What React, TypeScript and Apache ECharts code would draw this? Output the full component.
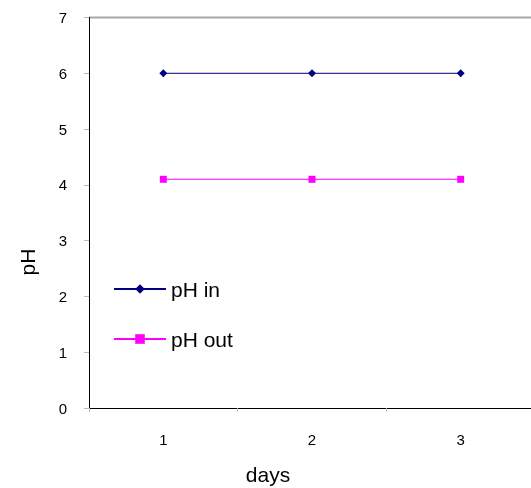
import React, { useEffect, useRef } from "react";
import * as echarts from "echarts";

const days = ["1", "2", "3"];
const phIn = [6, 6, 6];
const phOut = [4.1, 4.1, 4.1];
const yTicks = { min: 0, max: 7, interval: 1 };

const FONT = "'Liberation Sans', Arial, sans-serif";

export default function App() {
  const ref = useRef<HTMLDivElement>(null);

  useEffect(() => {
    if (!ref.current) return;
    const chart = echarts.init(ref.current, null, { renderer: "svg" });
    chart.setOption({
      animation: false,
      textStyle: { fontFamily: FONT },
      // the plot runs a little past the right edge of the visible frame
      grid: { left: 89, top: 17.5, width: 446, height: 390.5, containLabel: false },
      legend: {
        orient: "vertical",
        left: 108,
        top: 273,
        itemWidth: 52,
        itemHeight: 12,
        itemGap: 28,
        textStyle: { fontSize: 21, lineHeight: 22, color: "#000", fontFamily: FONT, padding: [0, 0, 0, 0] },
        data: ["pH in", "pH out"],
      },
      xAxis: {
        type: "category",
        data: days,
        boundaryGap: true,
        axisLine: { lineStyle: { color: "#000", width: 1 } },
        axisTick: { show: true, length: 4, lineStyle: { color: "#bbb" } },
        axisLabel: { color: "#000", fontSize: 15, margin: 24, fontFamily: FONT },
        splitLine: { show: false },
      },
      yAxis: {
        type: "value",
        min: yTicks.min,
        max: yTicks.max,
        interval: yTicks.interval,
        axisLine: { show: true, lineStyle: { color: "#000", width: 1 } },
        axisTick: { show: true, length: 5, lineStyle: { color: "#bbb" } },
        axisLabel: { color: "#000", fontSize: 15, margin: 22, fontFamily: FONT },
        splitLine: { show: false },
      },
      graphic: [
        {
          type: "line",
          shape: { x1: 89, y1: 17.5, x2: 540, y2: 17.5 },
          style: { stroke: "#a8a8a8", lineWidth: 2 },
        },
        {
          type: "text",
          x: 268,
          y: 474,
          style: {
            text: "days",
            font: `21px ${FONT}`,
            fill: "#000",
            align: "center",
            verticalAlign: "middle",
          },
        },
        {
          type: "text",
          x: 27,
          y: 262,
          rotation: Math.PI / 2,
          style: {
            text: "pH",
            font: `21px ${FONT}`,
            fill: "#000",
            align: "center",
            verticalAlign: "middle",
          },
        },
      ],
      series: [
        {
          name: "pH in",
          type: "line",
          data: phIn,
          symbol: "diamond",
          symbolSize: 8,
          itemStyle: { color: "#000080" },
          lineStyle: { color: "#000080", width: 1 },
        },
        {
          name: "pH out",
          type: "line",
          data: phOut,
          symbol: "rect",
          symbolSize: 7,
          itemStyle: { color: "#ff00ff" },
          lineStyle: { color: "#ff00ff", width: 1 },
        },
      ],
    });
    return () => chart.dispose();
  }, []);

  return (
    <div
      style={{ position: "fixed", left: 0, top: 0, width: 531, height: 488, overflow: "hidden" }}
    >
      <div ref={ref} style={{ width: 540, height: 488 }} />
    </div>
  );
}
